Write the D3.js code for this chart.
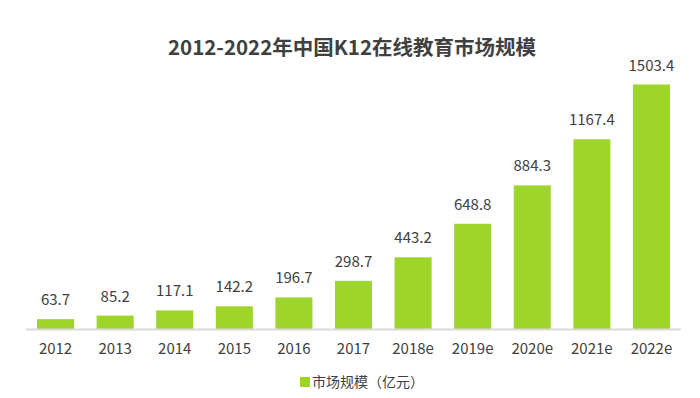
<!DOCTYPE html>
<html>
<head>
<meta charset="utf-8">
<script src="https://cdn.jsdelivr.net/npm/d3@7"></script>
<style>
  body { margin: 0; background: #fff; }
  text { font-family: "Noto Sans CJK SC", "Noto Sans", sans-serif; }
</style>
</head>
<body>
<script>
const years = ['2012', '2013', '2014', '2015', '2016', '2017', '2018e', '2019e', '2020e', '2021e', '2022e'];
const marketSize = [63.7, 85.2, 117.1, 142.2, 196.7, 298.7, 443.2, 648.8, 884.3, 1167.4, 1503.4];
const title = '2012-2022年中国K12在线教育市场规模';
const seriesName = '市场规模（亿元）';

const width = 700, height = 398;
const green = '#9dd52b';
const textColor = '#404040';

const svg = d3.select('body').append('svg')
  .attr('width', width)
  .attr('height', height);

const x = d3.scaleBand()
  .domain(years)
  .range([26, 681])
  .paddingInner(0.378)
  .paddingOuter(0.185);

const y = d3.scaleLinear()
  .domain([0, d3.max(marketSize)])
  .range([329.5, 84.5]);

// title
svg.append('text')
  .attr('x', 352)
  .attr('y', 55)
  .attr('text-anchor', 'middle')
  .style('font-size', '20.5px')
  .style('font-weight', 'bold')
  .style('fill', textColor)
  .text(title);

// bars
svg.selectAll('rect.bar')
  .data(marketSize)
  .enter()
  .append('rect')
  .attr('class', 'bar')
  .attr('x', (d, i) => x(years[i]))
  .attr('y', d => y(d))
  .attr('width', x.bandwidth())
  .attr('height', d => y(0) - y(d))
  .style('fill', green);

// value labels
svg.selectAll('text.value')
  .data(marketSize)
  .enter()
  .append('text')
  .attr('class', 'value')
  .attr('x', (d, i) => x(years[i]) + x.bandwidth() / 2)
  .attr('y', d => y(d) - 14)
  .attr('text-anchor', 'middle')
  .style('font-size', '15px')
  .style('fill', textColor)
  .text(d => d.toFixed(1));

// x axis
const xAxis = svg.append('g')
  .attr('transform', 'translate(0,' + y(0) + ')')
  .call(d3.axisBottom(x).tickSize(0).tickPadding(14));

xAxis.select('.domain')
  .attr('d', 'M' + x.range()[0] + ',0H' + x.range()[1])
  .style('stroke', '#d9d9d9')
  .style('stroke-width', 2);

xAxis.selectAll('text')
  .style('font-size', '15px')
  .style('fill', textColor)
  .style('font-family', '"Noto Sans CJK SC", "Noto Sans", sans-serif');

// legend
const legend = svg.append('g').attr('transform', 'translate(300,377)');
legend.append('rect')
  .attr('width', 10)
  .attr('height', 10)
  .style('fill', green);
legend.append('text')
  .attr('x', 12)
  .attr('y', 10)
  .style('font-size', '14px')
  .style('fill', textColor)
  .text(seriesName);
</script>
</body>
</html>
